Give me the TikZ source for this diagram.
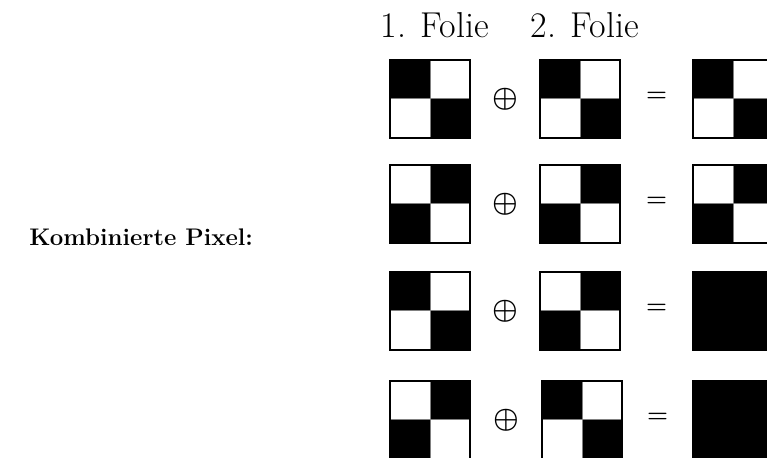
\documentclass[tikz,border=0pt]{standalone}
\usepackage{amsmath,amssymb}
\usepackage{xcolor}
\usepackage{tikz}
\usetikzlibrary{positioning, calc}

\tikzset{
  pixelbox/.style={draw=black, line width=1.3pt, minimum width=40pt, minimum height=39pt,
                   inner sep=0pt, outer sep=0pt},
  gitter/.style={draw=gray, line width=0.5pt},
  % schwarz oben links / unten rechts
  muster a/.style={pixelbox, path picture={
      \fill[black] (path picture bounding box.north west) rectangle (path picture bounding box.center);
      \fill[black] (path picture bounding box.center) rectangle (path picture bounding box.south east);
      \draw[gitter] (path picture bounding box.north) -- (path picture bounding box.south)
                    (path picture bounding box.west) -- (path picture bounding box.east);
  }},
  % schwarz oben rechts / unten links
  muster b/.style={pixelbox, path picture={
      \fill[black] (path picture bounding box.north) rectangle (path picture bounding box.east);
      \fill[black] (path picture bounding box.west) rectangle (path picture bounding box.south);
      \draw[gitter] (path picture bounding box.north) -- (path picture bounding box.south)
                    (path picture bounding box.west) -- (path picture bounding box.east);
  }},
  voll/.style={pixelbox, fill=black},
  folie/.style={inner sep=0pt, xshift=2.5pt, font=\fontsize{18}{22}\selectfont},
  plus/.style={inner sep=0pt, font=\Large\boldmath},
  gleich/.style={inner sep=0pt, yshift=1pt, font=\fontsize{11.5}{14}\selectfont\boldmath},
}

\begin{document}
\begin{tikzpicture}[x=0.5pt, y=-0.5pt]
        \useasboundingbox (0,0) rectangle (767,458);

        \node[font=\large\bfseries, anchor=base east] (label) at (260,246) {Kombinierte Pixel:};

        % Zeile 1
        \node[muster a] (r1a) at (430,99) {};
        \node[muster a] (r1b) at (580,99) {};
        \node[muster a] (r1c) at (733,99) {};
        % Zeile 2
        \node[muster b] (r2a) at (430,204) {};
        \node[muster b] (r2b) at (580,204) {};
        \node[muster b] (r2c) at (733,204) {};
        % Zeile 3
        \node[muster a] (r3a) at (430,311) {};
        \node[muster b] (r3b) at (580,311) {};
        \node[voll]     (r3c) at (733,311) {};
        % Zeile 4
        \node[muster b] (r4a) at (430,420) {};
        \node[muster a] (r4b) at (582,420) {};
        \node[voll]     (r4c) at (733,420) {};

        \node[folie, above=11pt of r1a] (f1) {1. Folie};
        \node[folie, above=11pt of r1b] (f2) {2. Folie};

        \node[plus] (p1) at ($(r1a)!0.5!(r1b)$) {$\oplus$};
        \node[plus] (p2) at ($(r2a)!0.5!(r2b)$) {$\oplus$};
        \node[plus] (p3) at ($(r3a)!0.5!(r3b)$) {$\oplus$};
        \node[plus] (p4) at ($(r4a)!0.5!(r4b)$) {$\oplus$};

        \node[gleich] (g1) at ($(r1b)!0.5!(r1c)$) {$=$};
        \node[gleich] (g2) at ($(r2b)!0.5!(r2c)$) {$=$};
        \node[gleich] (g3) at ($(r3b)!0.5!(r3c)$) {$=$};
        \node[gleich] (g4) at ($(r4b)!0.5!(r4c)$) {$=$};
      \end{tikzpicture}
\end{document}
